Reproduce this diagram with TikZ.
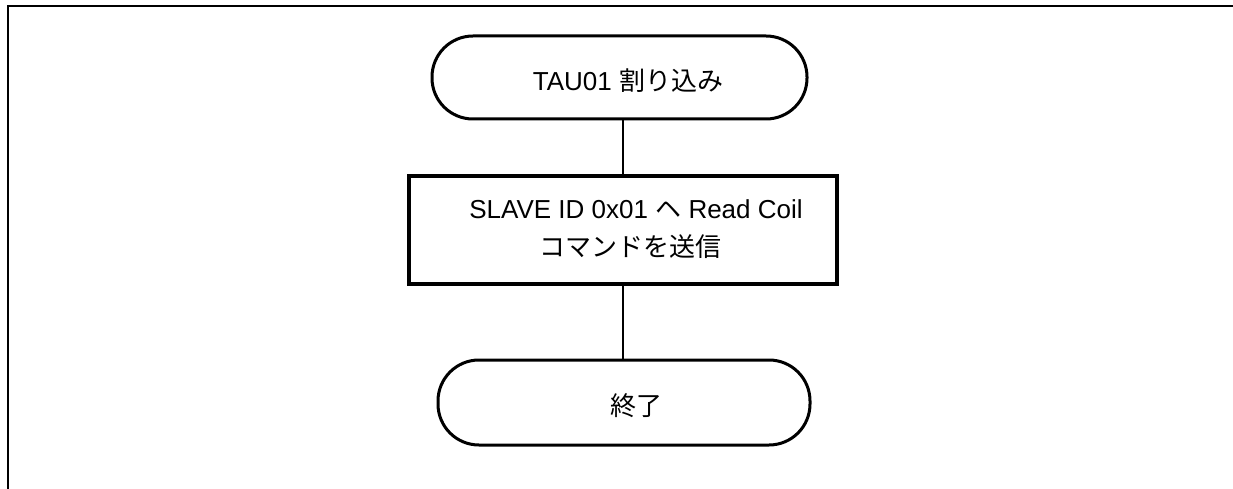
\documentclass[tikz,border=0pt]{standalone}
\usepackage{fontspec}
\setmainfont{Liberation Sans}
\newfontfamily\cjk{Noto Sans CJK JP}
\tikzset{
  term/.style={draw, line width=3pt, rounded corners=41pt, minimum width=#1, minimum height=83pt, inner sep=0pt},
  proc/.style={draw, line width=4pt, minimum width=428pt, minimum height=108pt, inner sep=0pt},
  conn/.style={line width=1.2pt},
  frame/.style={line width=2pt},
  lbl/.style={font=\fontsize{26}{38}\selectfont, inner sep=0pt, align=center}
}
\begin{document}
\begin{tikzpicture}[x=1pt,y=-1pt]
\useasboundingbox (0,0) rectangle (1233,489);
\coordinate (fl) at (7.5,489);
\coordinate (ftl) at (7.5,6);
\coordinate (fr) at (1233,6);
\draw[frame] (fl) -- (ftl) -- (fr);
\node[term=375pt] (start) at (619.5,77.5) {};
\node[proc] (box) at (623,230) {};
\node[term=372pt, minimum height=85pt] (end) at (624,402.5) {};
\node[lbl] (t1) at (628,81) {TAU01 {\cjk 割り込み}};
\node[lbl] (t2) at (630,229) {\hspace{12pt}SLAVE ID 0x01 {\cjk ヘ} Read Coil\\{\cjk コマンドを送信}};
\node[lbl] (t3) at (636,406) {\cjk 終了};
\draw[conn] (box.north) -- (box.north |- start.south);
\draw[conn] (box.south) -- (box.south |- end.north);
\end{tikzpicture}
\end{document}
